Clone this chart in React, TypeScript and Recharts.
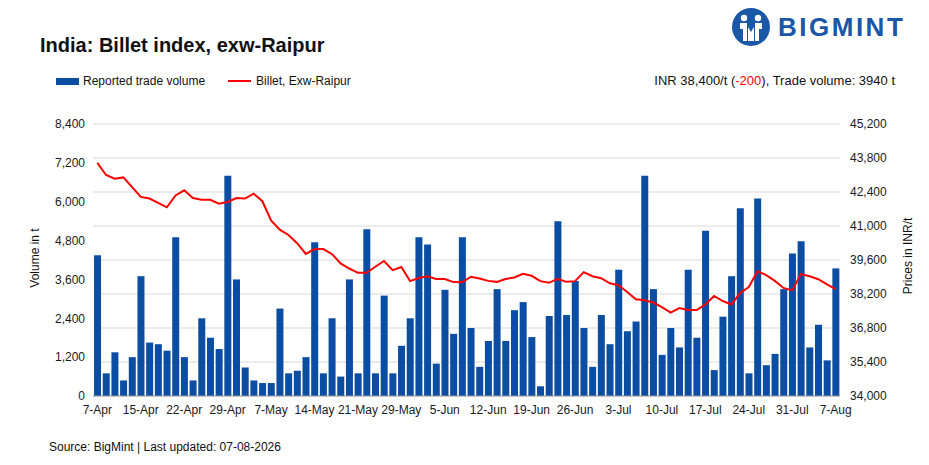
import React from 'react';
import { Bar, CartesianGrid, ComposedChart, Line, XAxis, YAxis } from 'recharts';

const dates = [
  '7-Apr', '8-Apr', '9-Apr', '10-Apr', '11-Apr',
  '15-Apr', '16-Apr', '17-Apr', '18-Apr', '21-Apr',
  '22-Apr', '23-Apr', '24-Apr', '25-Apr', '28-Apr',
  '29-Apr', '30-Apr', '1-May', '2-May', '5-May',
  '7-May', '8-May', '9-May', '12-May', '13-May',
  '14-May', '15-May', '16-May', '19-May', '20-May',
  '21-May', '22-May', '23-May', '26-May', '27-May',
  '29-May', '30-May', '2-Jun', '3-Jun', '4-Jun',
  '5-Jun', '6-Jun', '9-Jun', '10-Jun', '11-Jun',
  '12-Jun', '13-Jun', '16-Jun', '17-Jun', '18-Jun',
  '19-Jun', '20-Jun', '23-Jun', '24-Jun', '25-Jun',
  '26-Jun', '27-Jun', '30-Jun', '1-Jul', '2-Jul',
  '3-Jul', '4-Jul', '7-Jul', '8-Jul', '9-Jul',
  '10-Jul', '11-Jul', '14-Jul', '15-Jul', '16-Jul',
  '17-Jul', '18-Jul', '21-Jul', '22-Jul', '23-Jul',
  '24-Jul', '25-Jul', '28-Jul', '29-Jul', '30-Jul',
  '31-Jul', '1-Aug', '4-Aug', '5-Aug', '6-Aug',
  '7-Aug',
];

// reported trade volume, t
const volumes = [
  4350, 700, 1350, 480, 1200,
  3700, 1650, 1600, 1400, 4900,
  1200, 480, 2400, 1800, 1450,
  6800, 3600, 880, 480, 400,
  400, 2700, 700, 780, 1200,
  4750, 700, 2400, 600, 3600,
  700, 5150, 700, 3100, 700,
  1550, 2400, 4900, 4680, 1000,
  3280, 1920, 4900, 2100, 900,
  1700, 3300, 1700, 2650, 2900,
  1820, 300, 2470, 5400, 2500,
  3550, 2100, 900, 2500, 1600,
  3900, 2000, 2300, 6800, 3300,
  1270, 2100, 1500, 3900, 1800,
  5100, 800, 2450, 3700, 5800,
  700, 6100, 950, 1300, 3300,
  4400, 4780, 1500, 2200, 1100,
  3940,
];

// Billet, Exw-Raipur, INR/t
const prices = [
  43600, 43100, 42950, 43000, 42600,
  42200, 42130, 41950, 41770, 42260,
  42470, 42150, 42080, 42080, 41920,
  41990, 42150, 42130, 42330, 42020,
  41230, 40850, 40630, 40290, 39850,
  40050, 40050, 39850, 39460, 39250,
  39070, 39070, 39320, 39560, 39180,
  39310, 38730, 38860, 38930, 38820,
  38820, 38690, 38680, 38910, 38840,
  38740, 38700, 38820, 38880, 39030,
  38950, 38730, 38660, 38820, 38700,
  38730, 39100, 38930, 38850, 38640,
  38560, 38280, 37980, 37940, 37850,
  37660, 37430, 37620, 37540, 37540,
  37770, 38120, 37910, 37770, 38240,
  38490, 39140, 38980, 38740, 38450,
  38350, 39020, 38930, 38810, 38600,
  38400,
];

const volumeTicks = [0, 1200, 2400, 3600, 4800, 6000, 7200, 8400];
const priceTicks = [34000, 35400, 36800, 38200, 39600, 41000, 42400, 43800, 45200];

const rows = dates.map((date, i) => ({ date, volume: volumes[i], price: prices[i] }));

const FONT = '"Liberation Sans", Arial, sans-serif';
const BLUE = '#0a4da2';
const fmt = (v: number) => v.toLocaleString('en-US');
const tick = { fill: '#1a1a1a', fontSize: 12, fontFamily: FONT };

function Logo() {
  return (
    <div style={{ position: 'absolute', left: 731, top: 7, display: 'flex', alignItems: 'center' }}>
      <svg width={40} height={40} viewBox="0 0 40 40">
        <circle cx={20} cy={20} r={19} fill="#1a57a6" />
        <circle cx={13} cy={11} r={3.2} fill="#fff" />
        <circle cx={27} cy={11} r={3.2} fill="#fff" />
        <path d="M9 16 h7 v18 h-4 v-12 h-3z" fill="#fff" />
        <path d="M31 16 h-7 v18 h4 v-12 h3z" fill="#fff" />
        <path d="M17 20 l3 5 l3 -5 v14 h-6z" fill="#fff" />
      </svg>
      <span
        style={{
          marginLeft: 7,
          color: '#1a57a6',
          fontFamily: FONT,
          fontWeight: 900,
          fontSize: 26,
          letterSpacing: 2.5,
        }}
      >
        BIGMINT
      </span>
    </div>
  );
}

export default function App() {
  return (
    <div
      style={{
        position: 'absolute',
        left: 0,
        top: 0,
        width: 929,
        height: 465,
        background: '#fff',
        fontFamily: FONT,
        color: '#111',
      }}
    >
      <Logo />
      <div style={{ position: 'absolute', left: 40, top: 33, fontSize: 20, fontWeight: 700, lineHeight: '24px' }}>
        India: Billet index, exw-Raipur
      </div>

      <div style={{ position: 'absolute', left: 56, top: 73, height: 16, display: 'flex', alignItems: 'center', fontSize: 12 }}>
        <span style={{ width: 23, height: 7, background: BLUE, marginRight: 4 }} />
        <span>Reported trade volume</span>
        <span style={{ width: 23, height: 2.5, background: '#ff0000', marginLeft: 23, marginRight: 5 }} />
        <span>Billet, Exw-Raipur</span>
      </div>
      <div style={{ position: 'absolute', right: 34, top: 73, height: 16, lineHeight: '16px', fontSize: 13 }}>
        INR 38,400/t (<span style={{ color: '#ff0000' }}>-200</span>), Trade volume: 3940 t
      </div>

      <ComposedChart
        width={929}
        height={465}
        data={rows}
        margin={{ top: 124, right: 0, bottom: 39, left: 0 }}
        barCategoryGap="12%"
      >
        <CartesianGrid yAxisId="right" vertical={false} stroke="#d9d9d9" />
        <XAxis
          dataKey="date"
          interval={4}
          tickLine={false}
          axisLine={{ stroke: '#9a9a9a' }}
          tick={tick}
          tickMargin={3}
          height={30}
        />
        <YAxis
          yAxisId="left"
          domain={[0, 8400]}
          ticks={volumeTicks}
          tickFormatter={fmt}
          axisLine={false}
          tickLine={false}
          tick={tick}
          width={93}
        />
        <YAxis
          yAxisId="right"
          orientation="right"
          domain={[34000, 45200]}
          ticks={priceTicks}
          tickFormatter={fmt}
          axisLine={false}
          tickLine={false}
          tick={tick}
          tickMargin={4}
          width={89}
        />
        <Bar yAxisId="left" dataKey="volume" fill={BLUE} isAnimationActive={false} />
        <Line
          yAxisId="right"
          type="linear"
          dataKey="price"
          stroke="#ff0000"
          strokeWidth={2}
          dot={false}
          isAnimationActive={false}
        />
      </ComposedChart>

      <div
        style={{
          position: 'absolute',
          left: 35,
          top: 258,
          fontSize: 12,
          whiteSpace: 'nowrap',
          transform: 'translate(-50%, -50%) rotate(-90deg)',
        }}
      >
        Volume in t
      </div>
      <div
        style={{
          position: 'absolute',
          left: 908,
          top: 256,
          fontSize: 12,
          whiteSpace: 'nowrap',
          transform: 'translate(-50%, -50%) rotate(-90deg)',
        }}
      >
        Prices in INR/t
      </div>

      <div style={{ position: 'absolute', left: 49, top: 439, fontSize: 12, lineHeight: '16px' }}>
        Source: BigMint | Last updated: 07-08-2026
      </div>
    </div>
  );
}
